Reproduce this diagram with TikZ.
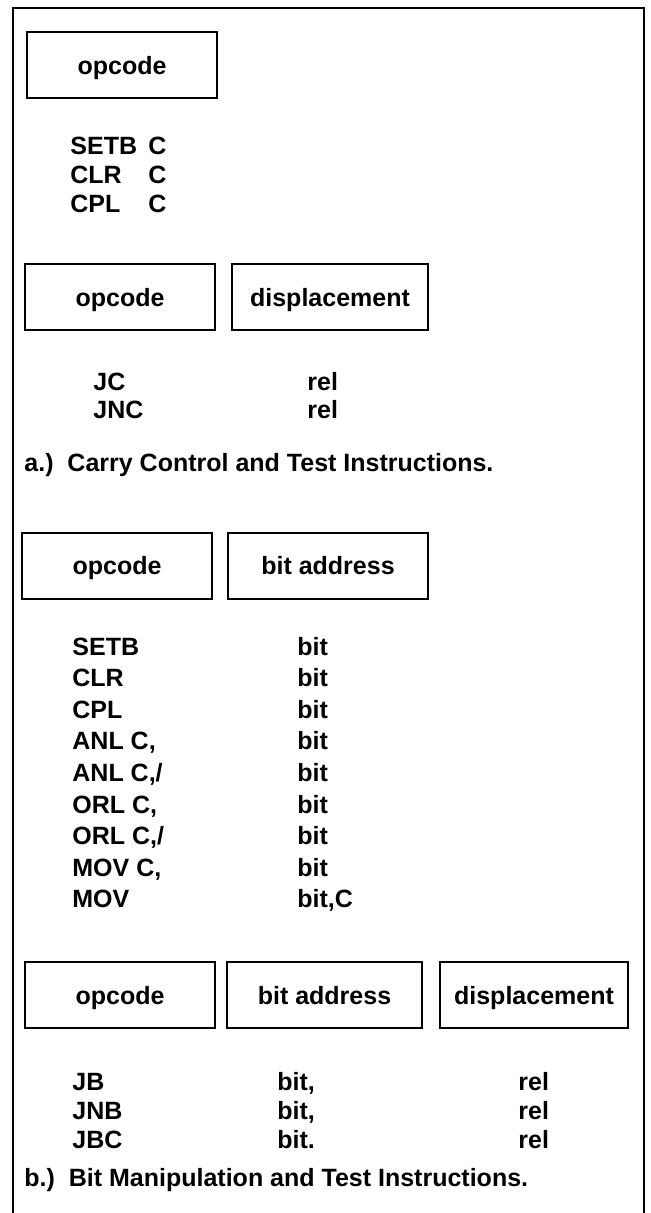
\documentclass[tikz,border=0pt]{standalone}
\usepackage{fontspec}
\setmainfont{Liberation Sans}
\usetikzlibrary{positioning}
\tikzset{
  field/.style={draw, line width=1pt, inner sep=0pt, minimum height=33pt,
                text height=12pt, text depth=2.6pt,
                font=\fontsize{12.5}{15}\selectfont\bfseries},
  mnem/.style={anchor=base west, inner sep=0pt,
                font=\fontsize{12.5}{15}\selectfont\bfseries},
  capt/.style={anchor=base west, inner sep=0pt,
                font=\fontsize{12.5}{15}\selectfont\bfseries},
}
\begin{document}
\begin{tikzpicture}[x=0.5pt,y=-0.5pt]
  \useasboundingbox (0,0) rectangle (650,1213);
  % outer frame, open at the bottom
  \draw[line width=1pt] (13,1213) -- (13,8) -- (644,8) -- (644,1213);

  % a.) carry control
  \node[field,minimum width=95pt] (opA) at (122,65.5) {opcode};
  \foreach \op [count=\i from 0] in {SETB,CLR,CPL}{
    \node[mnem] (opa\i) at (70,155+29*\i) {\op};
    \node[mnem] (cya\i) at (148,155+29*\i) {C};
  }
  \node[field,minimum width=95pt] (opB) at (120,297) {opcode};
  \node[field,minimum width=98pt] (dispB) at (330,297) {displacement};
  \foreach \op [count=\i from 0] in {JC,JNC}{
    \node[mnem] (opj\i) at (93,391+27*\i) {\op};
    \node[mnem] (relj\i) at (307,391+27*\i) {rel};
  }
  \node[capt] (captA) at (24,471) {a.)\ \ Carry Control and Test Instructions.};

  % b.) bit manipulation
  \node[field,minimum width=95pt] (opC) at (117,565.5) {opcode};
  \node[field,minimum width=100pt] (bitC) at (328,565.5) {bit address};
  \foreach \op/\arg [count=\i from 0] in {SETB/bit,CLR/bit,CPL/bit,
      {ANL C,}/bit,{ANL C,/}/bit,{ORL C,}/bit,{ORL C,/}/bit,{MOV C,}/bit,MOV/{bit,C}}{
    \node[mnem] (opb\i) at (72,655+31.6*\i) {\op};
    \node[mnem] (argb\i) at (297,655+31.6*\i) {\arg};
  }
  \node[field,minimum width=95pt] (opD) at (120,995) {opcode};
  \node[field,minimum width=97.5pt] (bitD) at (324.5,995) {bit address};
  \node[field,minimum width=94pt] (dispD) at (534,995) {displacement};
  \foreach \op/\arg [count=\i from 0] in {JB/{bit,},JNB/{bit,},JBC/{bit.}}{
    \node[mnem] (opk\i) at (72,1090+29*\i) {\op};
    \node[mnem] (argk\i) at (277,1090+29*\i) {\arg};
    \node[mnem] (relk\i) at (518,1090+29*\i) {rel};
  }
  \node[capt] (captB) at (24,1186) {b.)\ \ Bit Manipulation and Test Instructions.};
\end{tikzpicture}
\end{document}
